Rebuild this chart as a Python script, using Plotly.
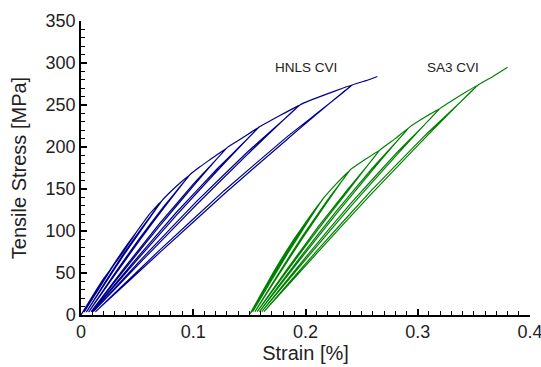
import plotly.graph_objects as go

# HNLS CVI loading/unloading path (strain %, stress MPa)
hnls_strain = [
    0.0, 0.01, 0.02, 0.035, 0.05,
    0.0383, 0.0265, 0.0148, 0.003, 0.0148, 0.0265, 0.0383, 0.05,
    0.056, 0.061, 0.067, 0.072,
    0.0553, 0.0385, 0.0218, 0.005, 0.0218, 0.0385, 0.0553, 0.072,
    0.08, 0.089, 0.097,
    0.0745, 0.052, 0.0295, 0.007, 0.0295, 0.052, 0.0745, 0.097,
    0.106, 0.115, 0.123, 0.13,
    0.0998, 0.0695, 0.0393, 0.009, 0.0393, 0.0695, 0.0998, 0.13,
    0.138, 0.145, 0.152, 0.159,
    0.1218, 0.0845, 0.0473, 0.010, 0.0473, 0.0845, 0.1218, 0.159,
    0.169, 0.178, 0.187, 0.195,
    0.149, 0.103, 0.057, 0.011, 0.057, 0.103, 0.149, 0.195,
    0.207, 0.22, 0.231, 0.242,
    0.1848, 0.1275, 0.0703, 0.013, 0.0703, 0.1275, 0.1848, 0.242,
    0.254, 0.264,
]
hnls_stress = [
    0, 22, 43, 70, 100,
    78.5, 55, 30, 4, 29, 54, 77.5, 100,
    111, 120, 129, 136,
    105.8, 74, 39.8, 4, 38.3, 72, 104.3, 136,
    147, 158, 167,
    130.5, 91, 48.5, 4, 46.5, 88.5, 128.7, 167,
    176.5, 185, 192.5, 199,
    155.4, 108.1, 57.2, 4, 55, 105.1, 153.2, 199,
    206, 212, 218, 224,
    174.7, 121.4, 63.9, 4, 61.5, 118.1, 172.3, 224,
    231.5, 238, 244.5, 250,
    194.9, 135.2, 71, 4, 68.2, 131.6, 192.1, 250,
    257, 263.5, 269, 274,
    213.5, 148, 77.5, 4, 74.5, 144, 210.5, 274,
    279, 284,
]

# SA3 CVI loading/unloading path (strain %, stress MPa)
sa3_strain = [
    0.15, 0.16, 0.171, 0.18, 0.189, 0.2,
    0.188, 0.176, 0.164, 0.152, 0.164, 0.176, 0.188, 0.2,
    0.208, 0.216,
    0.2003, 0.1845, 0.1688, 0.153, 0.1688, 0.1845, 0.2003, 0.216,
    0.228, 0.24,
    0.2188, 0.1975, 0.1763, 0.155, 0.1763, 0.1975, 0.2188, 0.24,
    0.253, 0.266,
    0.2388, 0.2115, 0.1843, 0.157, 0.1843, 0.2115, 0.2388, 0.266,
    0.28, 0.293,
    0.2595, 0.226, 0.1925, 0.159, 0.1925, 0.226, 0.2595, 0.293,
    0.307, 0.32,
    0.2803, 0.2405, 0.2008, 0.161, 0.2008, 0.2405, 0.2803, 0.32,
    0.335, 0.354,
    0.3063, 0.2585, 0.2108, 0.163, 0.2108, 0.2585, 0.3063, 0.354,
    0.367, 0.38,
]
sa3_stress = [
    0, 24, 50, 70, 89, 110,
    86.3, 60.6, 32.9, 4, 31.7, 59, 85.1, 110,
    125, 139,
    108.9, 76.1, 40.9, 4, 39.3, 74.1, 107.3, 139,
    157, 173,
    135.2, 94.2, 50, 4, 48.2, 91.7, 133.3, 173,
    185, 196,
    151.5, 105.4, 55.8, 4, 53.6, 102.6, 149.3, 196,
    210, 224,
    174.7, 121.4, 63.9, 4, 61.5, 118.1, 172.3, 224,
    236, 246,
    191.8, 133.1, 69.9, 4, 67.2, 129.5, 189.1, 246,
    259, 274,
    213.5, 148, 77.5, 4, 74.5, 144, 210.5, 274,
    284, 295,
]

labels = ["HNLS CVI", "SA3 CVI"]
label_x = [0.2005, 0.331]
label_y = [295, 295]

x_ticks = [0, 0.1, 0.2, 0.3, 0.4]
x_ticktext = ["0", "0.1", "0.2", "0.3", "0.4"]
y_ticks = [0, 50, 100, 150, 200, 250, 300, 350]

FONT = "Liberation Sans, Arial, sans-serif"

fig = go.Figure()
fig.add_trace(go.Scatter(x=hnls_strain, y=hnls_stress, mode="lines",
                         line=dict(color="#00008B", width=1.2, shape="spline", smoothing=0.3),
                         name=labels[0]))
fig.add_trace(go.Scatter(x=sa3_strain, y=sa3_stress, mode="lines",
                         line=dict(color="#008000", width=1.2, shape="spline", smoothing=0.3),
                         name=labels[1]))

for t, xx, yy in zip(labels, label_x, label_y):
    fig.add_annotation(x=xx, y=yy, text=t, showarrow=False,
                       font=dict(family=FONT, size=13.5, color="#222222"))

axis_font = dict(family=FONT, size=18, color="#222222")
title_font = dict(family=FONT, size=20, color="#222222")
fig.update_layout(
    width=541, height=367,
    margin=dict(l=81, r=11, t=21, b=52, autoexpand=False),
    paper_bgcolor="white", plot_bgcolor="white",
    showlegend=False,
    font=axis_font,
)
fig.update_xaxes(
    range=[0, 0.4], tickvals=x_ticks, ticktext=x_ticktext, automargin=False,
    ticklabeloverflow="allow",
    showline=True, linecolor="black", linewidth=1.5, mirror=False,
    ticks="inside", ticklen=6, tickcolor="black", tickwidth=1.5,
    minor=dict(dtick=0.01, ticks="inside", ticklen=4, tickcolor="black", tickwidth=1),
    showgrid=False, zeroline=False,
    title=dict(text="Strain [%]", font=title_font, standoff=0),
    tickfont=axis_font,
)
fig.update_yaxes(
    range=[0, 350], tickvals=y_ticks, automargin=False,
    ticklabeloverflow="allow",
    showline=True, linecolor="black", linewidth=1.5, mirror=False,
    ticks="inside", ticklen=6, tickcolor="black", tickwidth=1.5,
    minor=dict(dtick=10, ticks="inside", ticklen=4, tickcolor="black", tickwidth=1),
    showgrid=False, zeroline=False,
    title=dict(text="Tensile Stress [MPa]", font=title_font, standoff=14),
    tickfont=axis_font,
)

fig.write_html(
    "out.html",
    config={"displayModeBar": False},
    post_script="document.body.style.margin='0px';document.body.style.overflow='hidden';",
)
